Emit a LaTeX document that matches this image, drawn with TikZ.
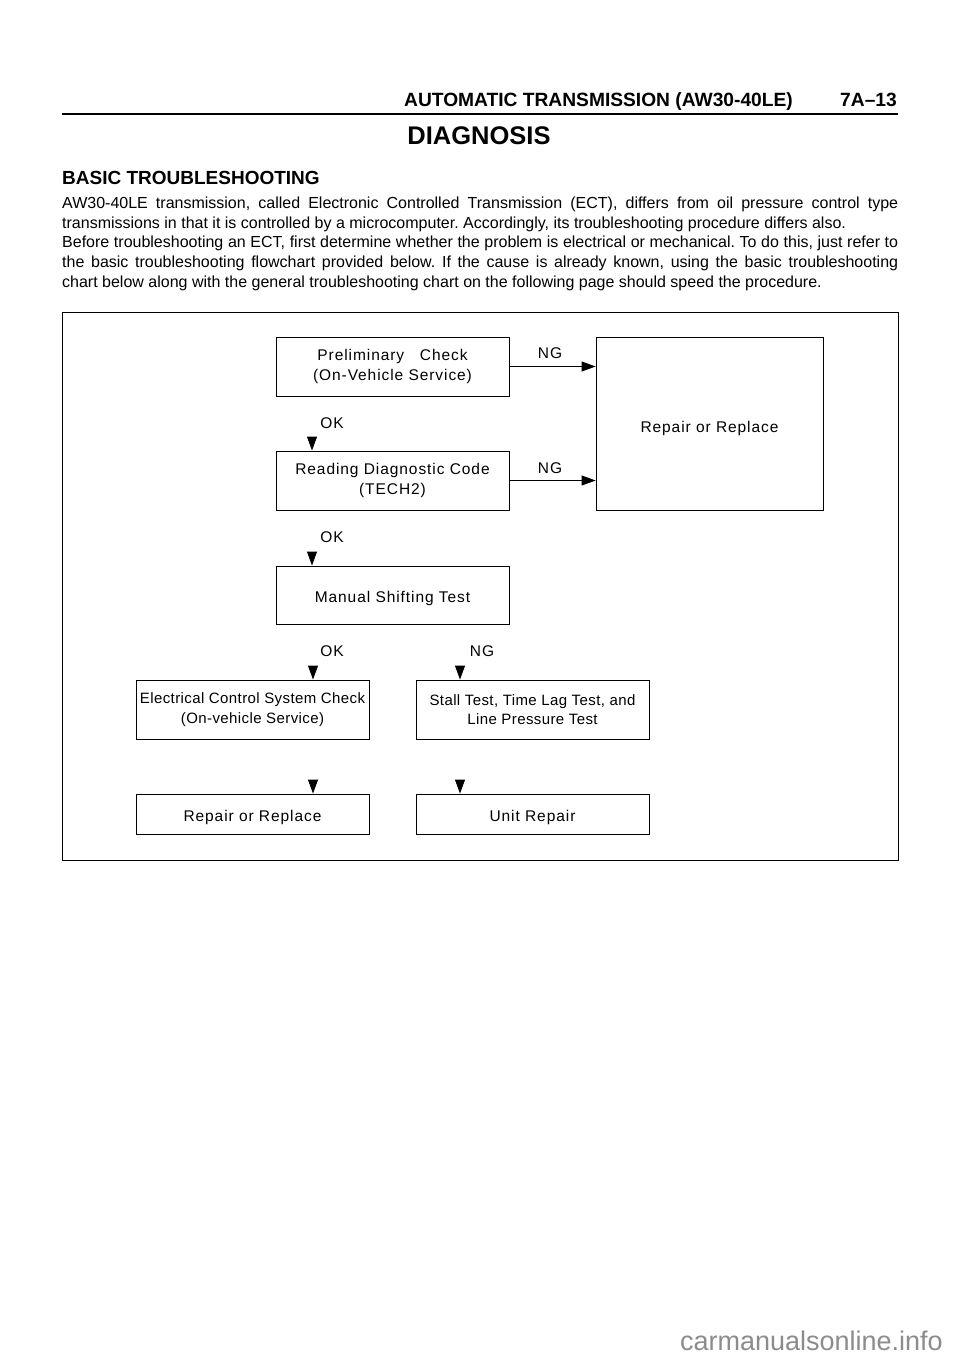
\documentclass[tikz,border=0pt]{standalone}
\usepackage{fontspec}
\setmainfont{Liberation Sans}
\newfontfamily\chartfont[LetterSpace=6]{Liberation Sans}
\newfontfamily\chartfontb[LetterSpace=2.7]{Liberation Sans}
\usetikzlibrary{arrows.meta}
\definecolor{wmgray}{RGB}{140,140,140}

\begin{document}
\begin{tikzpicture}[x=1pt,y=-1pt,
    box/.style={draw, line width=0.9pt, minimum width=233pt, minimum height=59pt, inner sep=0pt, align=center, font=\chartfont\fontsize{15.5}{19.5}\selectfont},
    onebox/.style={box, text height=17.5pt},
    boxb/.style={box, font=\chartfontb\fontsize{15}{19.5}\selectfont},
    lbl/.style={font=\chartfont\fontsize{15.5}{18}\selectfont, inner sep=0pt},
    flow/.style={line width=0.9pt, -{Triangle[length=14pt,width=10pt]}}]
    \fill[white] (0,0) rectangle (960,1358);
    \useasboundingbox (0,0) rectangle (960,1358);

    % Page heading
    \node[anchor=base east, inner sep=0pt, font=\bfseries\fontsize{19.2}{22}\selectfont] (runhead) at (793,106) {AUTOMATIC TRANSMISSION (AW30-40LE)};
    \node[anchor=base east, inner sep=0pt, font=\bfseries\fontsize{19.2}{22}\selectfont] (pageno) at (897,106) {7A\textendash13};
    \draw[line width=1.6pt] (62,114) -- (898,114);
    \node[anchor=base, inner sep=0pt, font=\bfseries\fontsize{25.5}{28}\selectfont] (diag) at (479,144) {DIAGNOSIS};

    % Introduction
    \node[anchor=base west, inner sep=0pt, font=\bfseries\fontsize{19}{20}\selectfont] (basic) at (62,184) {BASIC TROUBLESHOOTING};
    \node[anchor=north west, inner sep=0pt, text width=836pt, align=justify, font=\frenchspacing\fontsize{16}{19.6}\selectfont] (intro) at (62,197)
        {AW30-40LE transmission, called Electronic Controlled Transmission (ECT), differs from oil pressure control type\linebreak
         transmissions in that it is controlled by a microcomputer. Accordingly, its troubleshooting procedure differs also.\par
         Before troubleshooting an ECT, first determine whether the problem is electrical or mechanical. To do this, just refer to\linebreak
         the basic troubleshooting flowchart provided below. If the cause is already known, using the basic troubleshooting\linebreak
         chart below along with the general troubleshooting chart on the following page should speed the procedure.};

    % Flowchart frame
    \draw[line width=0.9pt] (62,312) rectangle (898,860);

    % Boxes
    \node[box] (prelim) at (392.5,366.5) {Preliminary\ \ \ Check\\(On-Vehicle Service)};
    \node[onebox, minimum width=227pt, minimum height=173pt, text height=21pt] (repairA) at (709.5,423.5) {Repair or Replace};
    \node[box] (reading) at (392.5,480.5) {Reading Diagnostic Code\\(TECH2)};
    \node[onebox, minimum height=58pt] (manual) at (392.5,595) {Manual Shifting Test};
    \node[boxb] (elec) at (252.5,709.5) {Electrical Control System Check\\(On-vehicle Service)};
    \node[boxb] (stall) at (532.5,709.5) {Stall Test, Time Lag Test, and\\Line Pressure Test};
    \node[onebox, minimum height=40pt] (repairB) at (252.5,814) {Repair or Replace};
    \node[onebox, minimum height=40pt] (unit) at (532.5,814) {Unit Repair};

    % NG branches
    \draw[flow] (prelim.east) -- (prelim.east -| repairA.west);
    \node[lbl] (ngOne) at (550,353) {NG};
    \draw[flow] (reading.east) -- (reading.east -| repairA.west);
    \node[lbl] (ngTwo) at (550,468) {NG};

    % OK arrows (heads only)
    \coordinate (okOne) at (312,437);
    \draw[flow] (okOne) -- (okOne |- reading.north);
    \node[lbl] (okOneLbl) at (332,423) {OK};
    \coordinate (okTwo) at (312,552);
    \draw[flow] (okTwo) -- (okTwo |- manual.north);
    \node[lbl] (okTwoLbl) at (332,537) {OK};
    \coordinate (okThree) at (313,666);
    \draw[flow] (okThree) -- (okThree |- elec.north);
    \node[lbl] (okThreeLbl) at (332,651) {OK};
    \coordinate (ngThree) at (460,666);
    \draw[flow] (ngThree) -- (ngThree |- stall.north);
    \node[lbl] (ngThreeLbl) at (482,651) {NG};
    \coordinate (downA) at (313,780);
    \draw[flow] (downA) -- (downA |- repairB.north);
    \coordinate (downB) at (460,780);
    \draw[flow] (downB) -- (downB |- unit.north);

    % Watermark
    \node[anchor=base east, inner sep=0pt, text=wmgray, font=\fontsize{27}{30}\selectfont] (mark) at (943,1350) {carmanualsonline.info};
\end{tikzpicture}
\end{document}
